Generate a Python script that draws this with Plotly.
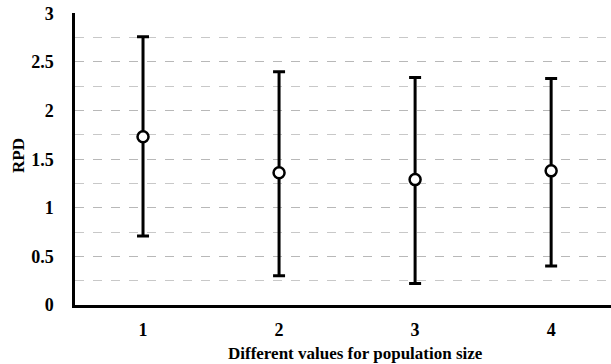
import plotly.graph_objects as go

categories = [1, 2, 3, 4]
means = [1.73, 1.36, 1.29, 1.38]
upper = [2.76, 2.40, 2.34, 2.33]
lower = [0.71, 0.30, 0.22, 0.40]
y_ticks = [0, 0.5, 1, 1.5, 2, 2.5, 3]
y_tick_labels = ["0", "0.5", "1", "1.5", "2", "2.5", "3"]
x_title = "Different values for population size"
y_title = "RPD"

plus = [u - m for u, m in zip(upper, means)]
minus = [m - l for m, l in zip(means, lower)]

font_family = "Liberation Serif"

fig = go.Figure()
fig.add_trace(go.Scatter(
    x=categories, y=means, mode="markers",
    marker=dict(symbol="circle", size=11, color="white",
                line=dict(color="black", width=2.5)),
    error_y=dict(type="data", symmetric=False, array=plus, arrayminus=minus,
                 color="black", thickness=3, width=6),
    showlegend=False,
))

fig.update_layout(
    width=611, height=364,
    margin=dict(l=75, r=0, t=13, b=59),
    paper_bgcolor="white", plot_bgcolor="white",
    font=dict(family=font_family, color="black"),
    annotations=[
        dict(text="<b>" + x_title + "</b>", xref="paper", yref="paper",
             x=0.524, y=0, yshift=-48, xanchor="center", yanchor="middle",
             showarrow=False, font=dict(family=font_family, size=17, color="black")),
        dict(text="<b>" + y_title + "</b>", xref="paper", yref="paper",
             x=0, y=0.5, xshift=-57, yshift=3, xanchor="center", yanchor="middle", textangle=-90,
             showarrow=False, font=dict(family=font_family, size=17, color="black")),
    ],
)
fig.update_xaxes(
    range=[0.5, 4.44], tickvals=categories, ticktext=[str(c) for c in categories],
    showgrid=False, zeroline=False, automargin=False,
    showline=True, linecolor="black", linewidth=2.5,
    ticks="", ticklabelstandoff=7,
    tickfont=dict(family=font_family, size=18, color="black", weight="bold"),
)
fig.update_yaxes(
    range=[0, 3.004], tickvals=y_ticks, ticktext=y_tick_labels,
    showgrid=True, gridcolor="#b8b8b8", gridwidth=1, griddash="dash",
    minor=dict(dtick=0.25, tick0=0, showgrid=True, gridcolor="#c8c8c8", gridwidth=1, griddash="dash"),
    zeroline=False, automargin=False,
    showline=True, linecolor="black", linewidth=2.5,
    ticks="", ticklabelstandoff=15,
    tickfont=dict(family=font_family, size=18, color="black", weight="bold"),
)

fig.write_html("out.html", config={"displayModeBar": False},
               post_script="document.body.style.margin='0';document.body.style.overflow='hidden';")
